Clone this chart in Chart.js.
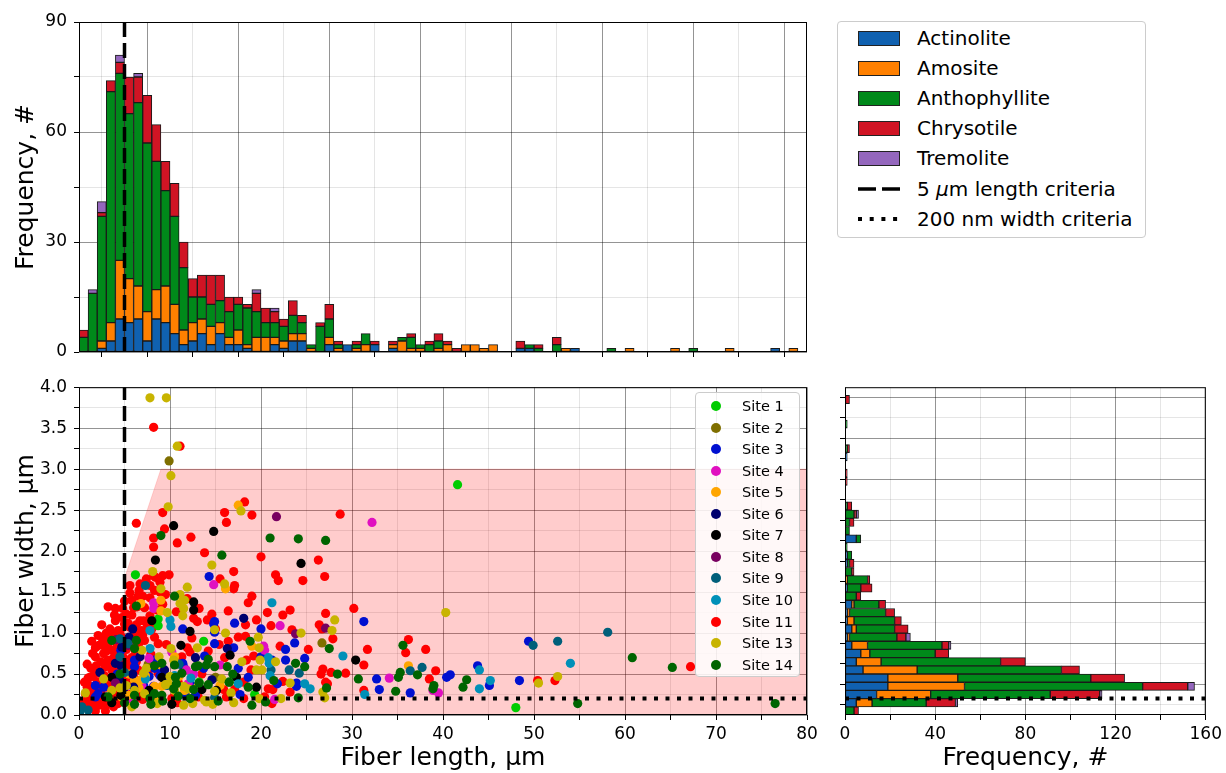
<!DOCTYPE html>
<html>
<head>
<meta charset="utf-8">
<script src="https://cdn.jsdelivr.net/npm/chart.js@4.4.1/dist/chart.umd.min.js"></script>
<style>
  body { margin: 0; background: #fff; font-family: "DejaVu Sans", sans-serif; color: #000; }
  #page { position: relative; width: 1226px; height: 773px; overflow: hidden; }
  canvas { position: absolute; }
  #histTop { left: 0; top: 0; }
  #scatter { left: 0; top: 370px; }
  #histRight { left: 820px; top: 370px; }
  .legend { position: absolute; background: rgba(255,255,255,0.85); border: 1px solid #ccc; border-radius: 4px; box-sizing: border-box; }
  #mineralLegend { left: 837px; top: 21px; width: 309px; height: 217px; font-size: 20px; }
  #siteLegend { left: 695px; top: 392px; width: 105px; height: 285px; font-size: 14.5px; }
  .row { position: absolute; left: 0; display: flex; align-items: center; white-space: nowrap; }
  .patch { box-sizing: border-box; width: 42px; height: 15px; border: 1px solid #222; margin-left: 20px; margin-right: 17px; }
  .sample { margin-left: 20px; margin-right: 17px; }
  .dot { width: 10px; height: 10px; border-radius: 50%; margin-left: 15px; margin-right: 21px; }
</style>
</head>
<body>
<div id="page">
  <canvas id="histTop" width="830" height="380"></canvas>
  <canvas id="scatter" width="830" height="403"></canvas>
  <canvas id="histRight" width="406" height="403"></canvas>
  <div id="mineralLegend" class="legend"></div>
  <div id="siteLegend" class="legend"></div>
</div>
<script>
const FONT = "'DejaVu Sans', sans-serif";
const MAJOR_GRID = "rgba(0,0,0,0.42)";
const MINOR_GRID = "rgba(0,0,0,0.1)";

const minerals = ["Actinolite", "Amosite", "Anthophyllite", "Chrysotile", "Tremolite"];
const mineralColors = ["#1061b0", "#ff8000", "#00891a", "#d01424", "#9467bd"];

// Length histogram: counts per 1 µm bin, 0..80 µm
const lengthActinolite = [0,0,1,3,9,8,9,3,9,8, 5,2,3,5,2,5,2,2,1,0, 0,2,1,3,3,0,0,2,0,2, 0,0,2,0,1,0,0,0,0,0, 0,0,0,0,0,0,0,0,1,1, 0,0,0,0,1,0,0,0,0,0, 0,0,0,0,0,0,0,0,0,0, 0,0,0,0,0,0,1,0,0,0];
const lengthAmosite = [0,0,2,5,16,12,9,8,8,10, 8,4,5,4,5,3,2,4,1,4, 4,2,2,2,2,1,0,2,1,0, 1,2,0,0,1,3,1,1,0,1, 2,0,2,2,1,2,0,0,0,0, 0,0,0,1,0,0,0,0,0,0, 1,0,0,0,0,1,0,0,0,0, 0,1,0,0,0,0,0,0,1,0];
const lengthAnthophyllite = [4,16,34,63,51,45,50,46,35,26, 24,17,7,6,6,6,7,7,10,7, 4,4,4,5,3,1,7,5,1,0, 1,3,0,0,0,1,3,1,2,2, 0,0,0,0,0,0,0,0,0,1, 1,0,2,0,0,0,0,0,1,0, 0,0,0,0,0,0,0,1,0,0, 0,0,0,0,0,0,0,0,0,0];
const lengthChrysotile = [2,0,1,3,3,10,7,13,10,8, 9,7,5,6,8,7,4,2,1,5, 4,3,2,4,2,0,1,4,1,0, 1,0,1,0,1,0,1,0,1,2, 1,1,0,0,0,0,0,0,2,0, 1,0,2,0,0,0,0,0,0,0, 0,0,0,0,0,0,0,0,0,0, 0,0,0,0,0,0,0,0,0,0];
const lengthTremolite = [0,1,3,0,2,0,1,0,0,0, 0,0,0,0,0,0,0,0,0,1, 0,1,0,0,0,0,0,0,0,0, 0,0,0,0,0,0,0,0,0,0, 0,0,0,0,0,0,0,0,0,0, 0,0,0,0,0,0,0,0,0,0, 0,0,0,0,0,0,0,0,0,0, 0,0,0,0,0,0,0,0,0,0];

// Width histogram: counts per 0.1 µm bin, 0..4 µm
const widthActinolite = [0,5,14,19,19,8,5,7,3,1, 3,1,1,3,0,1,0,0,1,1, 0,5,0,0,0,0,0,0,0,0, 0,1,0,0,0,0,0,0,0,0];
const widthAmosite = [0,7,24,34,31,24,11,4,7,1, 2,3,1,1,0,0,1,0,0,0, 0,0,0,0,0,0,0,0,0,0, 0,0,0,0,0,0,0,0,0,0];
const widthAnthophyllite = [4,24,53,79,59,64,53,29,33,21, 17,18,16,11,5,6,9,3,1,2, 1,2,2,2,4,1,0,0,0,0, 0,0,1,0,0,1,0,0,0,0];
const widthChrysotile = [2,13,22,20,15,8,11,6,3,4, 6,3,4,3,2,5,1,1,2,0, 0,0,0,2,1,2,0,0,1,1, 0,0,1,0,0,0,0,0,2,0];
const widthTremolite = [0,1,1,3,0,0,0,0,1,2, 0,0,0,0,0,0,0,0,0,0, 0,0,0,0,1,0,0,0,0,0, 0,0,0,0,0,0,0,0,0,0];

const lengthBinWidth = 1;
const widthBinWidth = 0.1;

// Scatter: [fiber length µm, fiber width µm] per site
const sites = ["Site 1", "Site 2", "Site 3", "Site 4", "Site 5", "Site 6", "Site 7", "Site 8", "Site 9", "Site 10", "Site 11", "Site 13", "Site 14"];
const siteColors = ["#00cc00", "#7f6f00", "#0010d0", "#e010c0", "#ffa500", "#00006e", "#000000", "#780060", "#005f7a", "#0090b8", "#ff0000", "#c8b400", "#006400"];

const site1 = [[6.2,1.71],[8.7,1.09],[13.7,0.9],[13.2,0.4],[16.5,0.4],[19.3,0.25],[41.6,2.81],[48.0,0.09],[8.7,1.17]];
const site2 = [[9.9,3.1],[26.7,0.88],[9.4,0.39],[15.0,0.46],[7.6,0.62],[11.8,0.3]];
const site3 = [[14.3,1.69],[31.3,1.14],[23.7,0.88],[22.7,0.8],[24.8,0.69],[22.7,0.67],[32.7,0.44],[40.4,0.46],[40.8,0.49],[43.8,0.6],[45.1,0.36],[48.4,0.42],[49.4,0.9],[23.9,0.39],[23.9,0.35],[33.0,0.31],[36.4,0.27],[21.8,0.38],[14.8,1.11],[14.9,1.01],[11.4,1.05],[17.1,1.12],[20.0,1.05],[17.5,0.57],[18.6,0.46],[17.7,0.25],[20.0,0.71],[21.2,0.67],[14.9,0.87],[11.6,0.25],[13.7,0.57],[11.5,0.59],[8.3,0.67],[8.3,0.57],[6.1,0.67],[6.1,0.59],[7.1,0.36],[8.2,0.35],[1.8,0.36],[2.7,0.34],[8.9,0.48],[9.4,0.44],[9.1,0.55],[1.8,0.22],[4.2,0.5],[12.3,0.36],
  [13.8,0.72],[11.4,0.63],[7.7,0.47],[4.6,0.79],[2.1,0.26],[12.8,0.24],[17.0,0.82],[14.9,1.14]];
const site4 = [[32.2,2.35],[22.1,1.09],[34.1,0.45],[38.9,0.3],[39.5,0.27],[21.5,0.19],[14.8,1.59],[8.2,1.3],[20.4,0.79],[10.2,0.77],[15.5,0.61],[12.0,0.38],[7.7,0.69],[8.2,0.34],[20.3,0.84],[12.6,0.5],
  [6.9,0.36],[5.9,0.17],[11.8,0.55],[8.2,1.37]];
const site5 = [[17.5,2.56],[36.2,0.6],[9.0,1.4],[9.0,1.27],[6.8,1.36],[16.1,1.54],[19.0,0.84],[10.5,0.71],[6.8,0.43],[6.1,0.42],[6.5,0.4],[9.1,0.35],[8.4,0.23],[4.7,0.22],[13.0,0.34],[11.0,0.47],[7.3,0.48],
  [9.0,0.61],[11.6,0.3],[8.3,0.35],[5.5,0.5],[5.4,0.24],[15.5,0.36],[6.6,0.33]];
const site6 = [[18.1,1.18],[16.3,0.81],[12.8,0.7],[9.4,0.55],[5.9,1.05],[4.7,0.83],[4.0,0.63],[6.7,0.71],[6.0,0.34],[5.5,0.95],[2.3,0.52],[4.5,0.42],
  [4.6,0.6],[5.9,0.5],[5.0,0.34],[14.6,0.43]];
const site7 = [[10.4,2.31],[14.8,2.24],[8.4,1.89],[24.4,1.85],[30.4,0.67],[12.6,1.28],[8.0,1.15],[12.2,1.02],[11.2,0.85],[16.6,0.73],[17.3,0.46],[19.5,0.34],[15.1,0.3],[13.5,0.31],[10.2,0.13],[7.7,0.3],[3.6,0.46],[2.9,0.22],[3.6,0.15],[9.1,0.46],
  [4.6,0.24],[12.6,1.38]];
const site8 = [[21.7,2.42],[27.1,1.06],[23.8,0.99],[4.1,0.92],[4.0,0.39],[5.4,0.85]];
const site9 = [[21.1,0.55],[23.1,0.55],[24.2,0.51],[36.4,0.54],[37.7,0.58],[49.9,0.85],[52.6,0.9],[58.1,1.01],[7.3,1.58],[4.5,0.71],[14.9,0.21],[9.7,0.36],[4.5,0.93],[5.4,0.87],[0.3,0.1],[0.1,0.04],[1.0,0.06],
  [5.0,0.52],[11.0,0.62]];
const site10 = [[21.2,1.37],[29.0,0.72],[24.8,0.38],[25.4,0.32],[31.4,0.25],[44.0,0.55],[45.2,0.42],[44.0,0.32],[54.0,0.63],[10.1,1.08],[7.8,1.03],[17.5,0.38],[21.0,0.48],[7.3,0.44],[7.8,0.81],[10.5,0.48],[20.9,0.63],
  [20.8,0.7],[12.3,0.45],[10.0,1.16]];
const site11 = [[8.2,3.51],[11.1,3.28],[18.2,2.6],[19.0,2.44],[16.0,2.47],[16.2,2.35],[9.2,2.47],[6.3,2.34],[9.4,2.27],[8.2,2.16],[12.3,2.17],[10.8,2.1],[8.2,2.05],[13.8,1.98],[20.0,1.93],[26.3,1.89],[17.0,1.75],[21.6,1.71],[27.0,1.69],[9.9,1.71],[28.7,2.45],[21.9,1.64],[24.6,1.64],[30.2,1.3],[23.2,1.28],[22.4,1.22],[27.1,1.24],[21.1,1.09],[26.4,1.1],[26.7,1.05],[23.4,1.04],[27.9,0.93],[22.1,0.84],[36.2,0.92],[38.1,0.8],[35.9,0.76],[25.2,0.8],[31.7,0.8],[31.3,0.61],[26.8,0.56],[26.6,0.5],[27.7,0.52],[29.3,0.51],[39.2,0.54],[38.5,0.44],[50.4,0.42],[52.3,0.42],[67.2,0.59],[21.3,0.31],[23.2,0.28],[22.4,0.41],[27.1,0.4],[27.3,0.38],[31.3,0.3],
  [8.4,1.68],[8.9,1.62],[9.2,1.7],[7.8,1.43],[8.3,1.52],[9.5,1.47],[3.2,1.32],[5.0,1.39],[5.2,1.23],[3.9,1.22],[10.7,1.26],[13.0,1.14],[7.1,1.15],[6.9,1.03],[14.1,1.16],[14.6,1.23],[16.4,1.27],[18.6,1.37],[17.0,1.54],[17.1,1.58],[15.5,1.66],[20.7,1.25],[19.5,1.16],[17.5,0.95],[18.3,0.96],[11.9,0.82],[12.2,0.77],[14.2,0.78],[18.4,0.67],[18.1,0.4],[17.1,0.31],[20.8,0.32],[20.4,0.22],[21.2,0.14],[16.4,0.9],[15.9,0.31],[13.1,0.22],[11.3,0.71],[8.7,0.51],[7.0,0.19],[10.2,0.2],
  [2.1,0.97],[1.8,0.82],[2.9,0.82],[2.7,0.75],[3.2,0.67],[1.2,0.46],[0.9,0.34],[0.7,0.26],[1.3,0.57],[1.8,0.71],[2.1,0.52],[3.2,0.87],[4.0,0.95],[3.6,0.79],[4.3,1.03],[4.7,0.95],[4.5,0.87],[4.0,1.15],[4.7,1.19],[5.0,1.11],[2.9,0.59],[3.6,0.55],[4.1,0.63],[2.5,0.42],[3.0,0.34],[1.8,0.3],[2.3,0.22],[4.0,0.26],[4.7,0.22],[4.3,0.32],[3.6,0.46],[4.2,0.48],[4.7,0.55],
  [5.6,1.49],[6.0,1.31],[6.5,1.45],[7.2,1.31],[7.8,1.21],[8.7,0.87],[8.3,0.95],[6.1,0.97],[5.6,1.07],[7.2,0.91],[6.7,1.15],[8.2,1.7],[5.6,1.58],[7.4,1.66],[6.7,1.6],[5.4,0.42],[6.7,0.28],[7.6,0.51],[10.9,0.4],
  [1.0,0.15],[1.5,0.12],[2.0,0.4],[0.9,0.62],[3.4,1.05],[2.5,1.1],[4.0,1.3],[2.8,0.95],[1.4,0.9],[3.5,0.18],[2.2,0.12],[6.2,0.78],[7.9,0.74],[9.6,0.86],[6.0,0.55],[5.8,1.22],[6.6,0.88],
  [1.5,0.75],[1.9,0.6],[2.4,0.65],[2.6,0.9],[3.0,0.78],[3.4,0.6],[3.8,0.7],[4.4,0.75],[4.9,0.7],[5.3,0.62],[5.8,0.7],[6.3,0.65],
  [1.2,0.35],[1.6,0.48],[2.0,0.55],[2.4,0.3],[2.8,0.48],[3.3,0.4],[3.9,0.38],[4.4,0.58],[5.0,0.45],[5.5,0.52],[6.0,0.46],[6.5,0.55],
  [0.9,0.18],[1.4,0.25],[1.9,0.16],[2.6,0.2],[3.0,0.12],[3.8,0.1],[4.3,0.14],[4.9,0.3],[5.6,0.25],[6.2,0.2],[7.0,0.35],
  [2.2,0.85],[3.6,0.98],[4.2,0.85],[5.2,0.8],[5.7,0.9],[6.5,1.0],[7.0,0.98],[5.4,1.12],[6.3,1.1],[7.5,1.1],[8.0,1.05],[5.8,1.4],[6.4,1.32],[7.0,1.45],[8.6,1.28],[9.2,1.35],[6.6,1.52],[7.8,1.58],[8.9,1.5],
  [4.8,1.3],[4.5,1.02],[3.0,1.0],[2.0,0.3],[1.0,0.45],[0.6,0.4],[0.5,0.15],[1.8,0.05],[2.9,0.05],[1.0,0.08],
  [11.9,1.42],[13.2,1.3],[12.6,1.18],[18.3,1.1],[19.0,1.45],[15.0,1.05],[10.8,0.15],[16.2,0.22],[18.1,0.2],[13.5,0.5],[18.9,0.55],[16.0,0.7],[19.2,0.72],[15.4,0.86],[12.4,0.94]];
const site13 = [[7.8,3.87],[9.6,3.87],[10.8,3.28],[10.1,2.92],[17.8,2.49],[9.8,2.54],[14.6,1.83],[8.1,1.75],[28.1,1.16],[27.8,1.03],[24.4,1.0],[40.3,1.25],[21.6,0.65],[22.2,0.2],[23.2,0.39],[26.8,0.28],[27.0,0.21],[50.5,0.39],[52.6,0.47],[9.0,1.54],[11.9,1.56],[11.1,1.36],[11.6,1.4],[9.7,1.25],[11.4,1.21],[16.0,1.6],[19.7,0.95],[19.5,0.55],[20.1,0.55],[15.7,0.44],[16.7,0.27],[14.0,0.16],[14.7,0.13],[11.5,0.35],[12.0,0.32],[10.5,0.3],[12.5,0.14],[10.4,0.67],[8.8,0.71],[7.4,0.57],[7.1,0.51],[6.1,0.3],[5.2,0.36],[5.8,0.1],[8.6,0.14],[9.8,0.38],[2.7,0.44],[3.6,0.3],[0.7,0.27],[6.9,0.79],[10.0,0.47],[19.9,0.67],
  [11.1,1.47],[11.5,1.3],[10.1,0.81],[19.8,0.82],[14.9,0.29],[9.5,0.37],[7.2,0.26],[4.5,0.33],[11.5,0.12],[13.8,0.18],[17.0,0.15],[19.8,0.2],[17.9,0.65],[13.0,0.82],[16.1,1.0],[14.9,1.04]];
const site14 = [[9.0,2.19],[21.0,2.16],[24.1,2.15],[27.1,2.13],[15.7,1.95],[35.6,0.85],[27.5,0.81],[23.8,0.63],[24.8,0.59],[28.4,0.5],[30.7,0.44],[35.1,0.46],[35.3,0.52],[37.2,0.49],[39.0,0.36],[38.9,0.32],[42.6,0.43],[42.2,0.34],[24.1,0.21],[27.2,0.33],[34.8,0.29],[54.8,0.14],[60.8,0.7],[65.2,0.58],[76.5,0.14],[10.5,1.45],[6.3,1.33],[14.9,0.59],[16.3,0.59],[16.5,0.4],[18.6,0.34],[20.5,0.16],[21.4,0.42],[14.2,0.37],[13.2,0.39],[12.6,0.31],[10.6,0.46],[10.7,0.38],[10.9,0.23],[12.8,0.59],[10.5,0.61],[9.1,0.63],[6.1,0.13],[5.0,0.15],[7.9,0.13],[9.1,0.24],[3.6,0.91],[3.2,0.22],[6.1,0.81],[6.3,0.91],[11.3,0.51],[10.4,0.32],
  [4.5,0.5],[8.3,0.6],[13.1,0.6],[14.0,0.61],[6.1,0.24],[7.8,0.2],[8.3,0.26],[9.2,0.17],[12.2,0.2],[15.3,0.17],[19.0,0.12],[16.9,0.5],[14.2,0.68],[18.8,0.9]];

const sitePoints = [site1, site2, site3, site4, site5, site6, site7, site8, site9, site10, site11, site13, site14];
// Site 11 (the largest group) sits underneath the other sites
const siteLayer = [12, 11, 10, 9, 8, 7, 6, 5, 4, 3, 20, 2, 1];

// Criteria and the shaded region (length >= 5, width <= length / 3, width <= 3)
const lengthCriteria = 5;
const widthCriteria = 0.2;
const shadedRegion = [[5, 1.67], [9, 3], [80, 3]];

Chart.defaults.font.family = FONT;
Chart.defaults.color = "#000";

// Plot frame on all four sides
const framePlugin = {
  id: "frame",
  afterDatasetsDraw(chart) {
    const { ctx, chartArea: a } = chart;
    ctx.save();
    ctx.strokeStyle = "#000";
    ctx.lineWidth = 1;
    ctx.strokeRect(a.left + 0.5, a.top + 0.5, a.right - a.left - 1, a.bottom - a.top - 1);
    ctx.restore();
  }
};

function isMajor(v, major) {
  const r = v / major;
  return Math.abs(r - Math.round(r)) < 1e-6;
}

function makeScale({ min, max, step, major, fmt, title, fit, horizontal, stacked }) {
  return {
    type: "linear",
    min,
    max,
    offset: false,
    stacked: !!stacked,
    grid: {
      color: c => (c.tick && isMajor(c.tick.value, major) ? MAJOR_GRID : MINOR_GRID),
      lineWidth: 1,
      drawTicks: true,
      tickLength: 5,
      tickColor: "#000"
    },
    border: { display: false },
    ticks: {
      stepSize: step,
      autoSkip: false,
      maxRotation: 0,
      padding: horizontal ? 4 : 7,
      color: "#000",
      font: { family: FONT, size: 17 },
      callback: v => (fmt && isMajor(v, major) ? fmt(v) : "")
    },
    title: title
      ? {
          display: true,
          text: title,
          color: "#000",
          font: { family: FONT, size: 25 },
          padding: horizontal ? { top: 0, bottom: 0 } : { top: 11, bottom: 0 }
        }
      : { display: false },
    afterFit: s => {
      if (horizontal) s.height = fit;
      else s.width = fit;
    }
  };
}

function histDatasets(series, binWidth, horizontal) {
  return series.map((counts, k) => ({
    type: "bar",
    label: minerals[k],
    data: counts.map((c, i) => {
      const mid = (i + 0.5) * binWidth;
      return horizontal ? { x: c || null, y: mid } : { x: mid, y: c || null };
    }),
    backgroundColor: mineralColors[k],
    borderColor: "#1a1a1a",
    borderWidth: 1,
    borderSkipped: false,
    barPercentage: 1,
    categoryPercentage: 1,
    stack: "minerals",
    order: 10
  }));
}

function refLine(points, dash, width) {
  return {
    type: "line",
    data: points.map(p => ({ x: p[0], y: p[1] })),
    borderColor: "#000",
    borderWidth: width,
    borderDash: dash,
    borderCapStyle: "butt",
    pointRadius: 0,
    fill: false,
    tension: 0,
    stack: "ref",
    order: 0
  };
}

const baseOptions = {
  animation: false,
  responsive: false,
  devicePixelRatio: 1,
  events: [],
  plugins: { legend: { display: false }, tooltip: { enabled: false } }
};

// Top: length histogram
new Chart(document.querySelector("#histTop"), {
  type: "bar",
  data: {
    datasets: [
      ...histDatasets([lengthActinolite, lengthAmosite, lengthAnthophyllite, lengthChrysotile, lengthTremolite], lengthBinWidth, false),
      refLine([[lengthCriteria, 0], [lengthCriteria, 90]], [15, 6], 3.5)
    ]
  },
  options: {
    ...baseOptions,
    layout: { padding: { left: 0, top: 22, right: 23, bottom: 0 } },
    scales: {
      x: makeScale({ min: 0, max: 80, step: 5, major: 10, fmt: null, fit: 28, horizontal: true, stacked: true }),
      y: makeScale({ min: 0, max: 90, step: 15, major: 30, fmt: v => String(v), title: "Frequency, #", fit: 79, stacked: true })
    }
  },
  plugins: [framePlugin]
});

// Bottom left: length vs width scatter
const siteDatasets = sitePoints.map((pts, i) => ({
  type: "scatter",
  label: sites[i],
  data: pts.map(p => ({ x: p[0], y: p[1] })),
  backgroundColor: siteColors[i],
  borderWidth: 0,
  pointRadius: 4.6,
  order: siteLayer[i]
}));

new Chart(document.querySelector("#scatter"), {
  type: "scatter",
  data: {
    datasets: [
      {
        type: "line",
        data: shadedRegion.map(p => ({ x: p[0], y: p[1] })),
        backgroundColor: "rgba(255,0,0,0.2)",
        borderColor: "rgba(255,0,0,0.15)",
        borderWidth: 1,
        pointRadius: 0,
        tension: 0,
        fill: "origin",
        order: 100
      },
      ...siteDatasets,
      refLine([[lengthCriteria, 0], [lengthCriteria, 4]], [15, 6], 3.5),
      refLine([[0, widthCriteria], [80, widthCriteria]], [4, 7.5], 4)
    ]
  },
  options: {
    ...baseOptions,
    layout: { padding: { left: 0, top: 15, right: 23, bottom: 0 } },
    scales: {
      x: makeScale({ min: 0, max: 80, step: 5, major: 10, fmt: v => String(v), title: "Fiber length, μm", fit: 58, horizontal: true }),
      y: makeScale({ min: 0, max: 4, step: 0.25, major: 0.5, fmt: v => v.toFixed(1), title: "Fiber width, μm", fit: 79 })
    }
  },
  plugins: [framePlugin]
});

// Bottom right: width histogram
const widthLine = refLine([[0, widthCriteria], [160, widthCriteria]], [4, 7.5], 4);
widthLine.indexAxis = "x";

new Chart(document.querySelector("#histRight"), {
  type: "bar",
  data: {
    datasets: [
      ...histDatasets([widthActinolite, widthAmosite, widthAnthophyllite, widthChrysotile, widthTremolite], widthBinWidth, true),
      widthLine
    ]
  },
  options: {
    ...baseOptions,
    indexAxis: "y",
    layout: { padding: { left: 0, top: 15, right: 17, bottom: 0 } },
    scales: {
      x: makeScale({ min: 0, max: 160, step: 20, major: 40, fmt: v => String(v), title: "Frequency, #", fit: 58, horizontal: true, stacked: true }),
      y: makeScale({ min: 0, max: 4, step: 0.25, major: 0.5, fmt: null, fit: 25, stacked: true })
    }
  },
  plugins: [framePlugin]
});

// Legends
const mineralLegend = document.querySelector("#mineralLegend");
minerals.forEach((name, i) => {
  mineralLegend.insertAdjacentHTML(
    "beforeend",
    `<div class="row" style="top:${4 + i * 30.1}px;height:24px"><span class="patch" style="background:${mineralColors[i]}"></span><span>${name}</span></div>`
  );
});
mineralLegend.insertAdjacentHTML(
  "beforeend",
  `<div class="row" style="top:${4 + 5 * 30.1}px;height:24px"><svg class="sample" width="42" height="8"><line x1="0" y1="4" x2="42" y2="4" stroke="#000" stroke-width="3.5" stroke-dasharray="18 6"/></svg><span>5 <i>μ</i>m length criteria</span></div>
   <div class="row" style="top:${4 + 6 * 30.1}px;height:24px"><svg class="sample" width="42" height="8"><line x1="0" y1="4" x2="42" y2="4" stroke="#000" stroke-width="4" stroke-dasharray="4 7.7"/></svg><span>200 nm width criteria</span></div>`
);

const siteLegend = document.querySelector("#siteLegend");
sites.forEach((name, i) => {
  siteLegend.insertAdjacentHTML(
    "beforeend",
    `<div class="row" style="top:${3 + i * 21.55}px;height:20px"><span class="dot" style="background:${siteColors[i]}"></span><span>${name}</span></div>`
  );
});
</script>
</body>
</html>
